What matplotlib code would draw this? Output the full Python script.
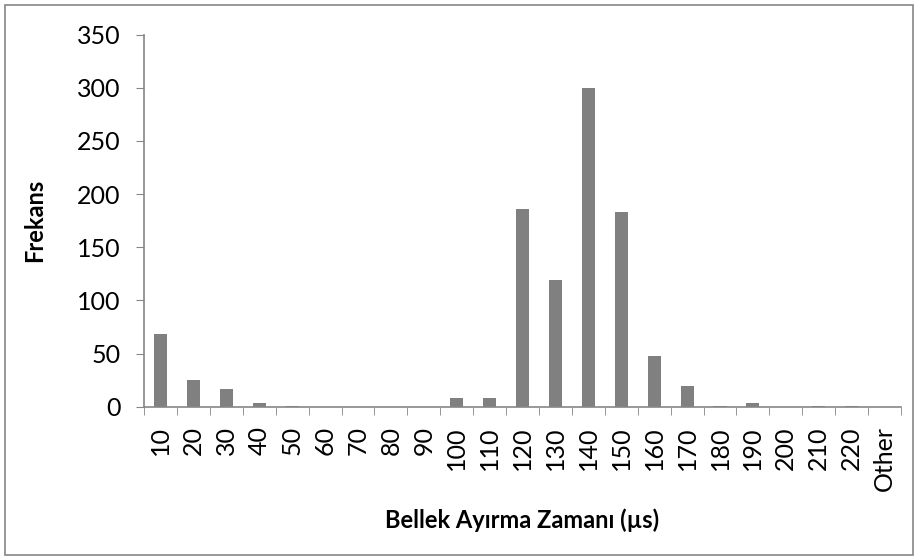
import matplotlib
matplotlib.use("Agg")
import matplotlib.pyplot as plt
from matplotlib.patches import Rectangle

# Histogram bins and frequencies
bins = ["10", "20", "30", "40", "50", "60", "70", "80", "90", "100", "110", "120",
        "130", "140", "150", "160", "170", "180", "190", "200", "210", "220", "Other"]
frekans = [68, 25, 17, 3, 1, 0, 0, 0, 0, 8, 8, 186,
           119, 300, 183, 48, 19, 1, 3, 0, 1, 1, 0]

plt.rcParams['font.family'] = ['Lato', 'DejaVu Sans']

fig = plt.figure(figsize=(9.18, 5.6), dpi=100)
ax = fig.add_axes([0.1569, 0.2738, 0.8246, 0.6642])

x = list(range(len(bins)))
ax.bar(x, frekans, width=0.4, color='#808080', zorder=2)

ax.set_xlim(-0.5, len(bins) - 0.5)
ax.set_ylim(0, 350)
ax.set_yticks(range(0, 351, 50))
ax.tick_params(axis='y', labelsize=18, length=6, color='#868686', pad=11)

# category labels centred, tick marks on the category boundaries
ax.set_xticks(x)
ax.set_xticklabels(bins, rotation=90, fontsize=18)
ax.tick_params(axis='x', which='major', length=0, pad=14)
ax.set_xticks([i - 0.5 for i in range(len(bins) + 1)], minor=True)
ax.tick_params(axis='x', which='minor', length=6, color='#868686')

for s in ['top', 'right']:
    ax.spines[s].set_visible(False)
for s in ['left', 'bottom']:
    ax.spines[s].set_color('#868686')
    ax.spines[s].set_linewidth(1.2)

ax.set_ylabel("Frekans", fontsize=17, fontweight='bold')
ax.yaxis.set_label_coords(-0.144, 0.5)
ax.set_xlabel("Bellek Ayırma Zamanı (µs)", fontsize=17, fontweight='bold')
ax.xaxis.set_label_coords(0.5, -0.305)
ax.xaxis.label.set_va('center')
ax.yaxis.label.set_va('center')

# chart border
fig.patches.append(Rectangle((5 / 918, 5 / 560), 908 / 918, 550 / 560,
                             transform=fig.transFigure, fill=False,
                             edgecolor='#868686', linewidth=1.2))

fig.savefig("out.png", dpi=100)
